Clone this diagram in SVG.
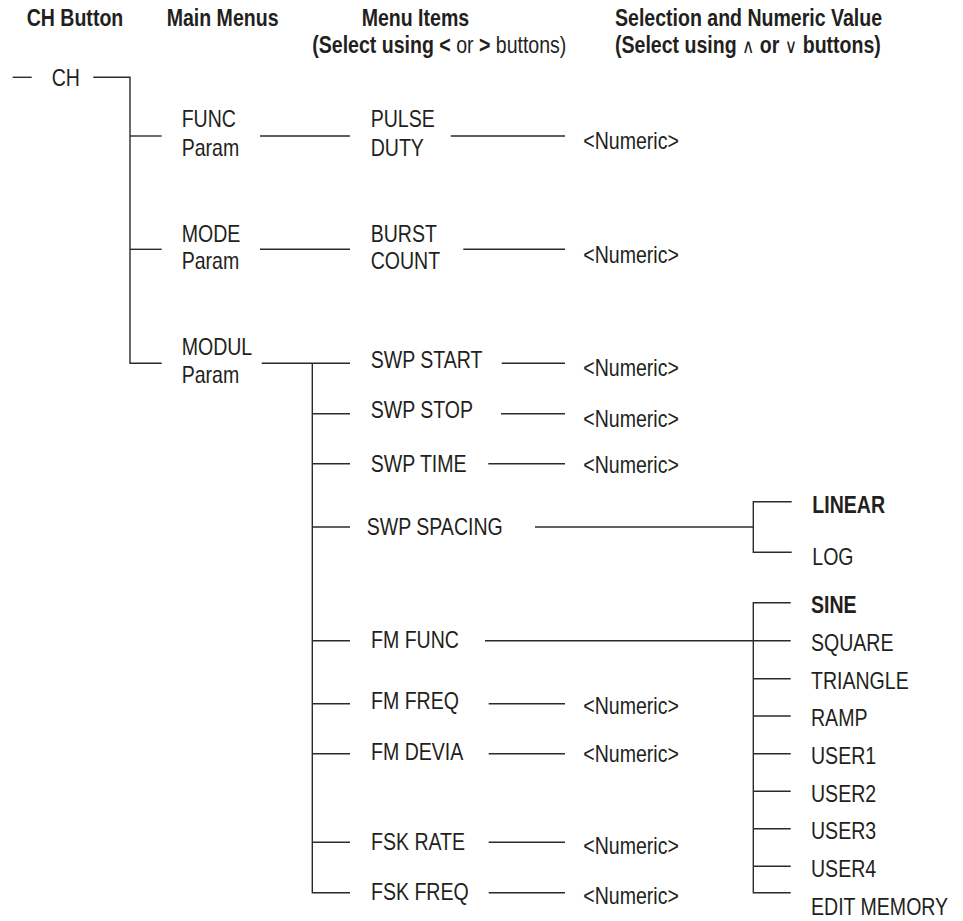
<svg xmlns="http://www.w3.org/2000/svg" width="963" height="921" viewBox="0 0 963 921">
<style>
text { font-family: "Liberation Sans", Arial, sans-serif; font-size: 23px; fill: #231f20; transform-box: fill-box; transform-origin: 0 50%; transform: scaleX(0.85); }
.b { font-weight: bold; }
.r { font-weight: normal; }
.sym { font-family: "DejaVu Sans", sans-serif; font-size: 20px; font-weight: normal; }
.c line, .c path { stroke: #2b2b2b; stroke-width: 1.4; fill: none; }
</style>
<rect width="963" height="921" fill="#fff"/>
<g id="headers">
<text class="b" x="26.7" y="26">CH Button</text>
<text class="b" x="166.7" y="26">Main Menus</text>
<text class="b" x="361.7" y="26">Menu Items</text>
<text class="b" x="312.3" y="53.5">(Select using &lt; <tspan class="r">or</tspan> &gt; <tspan class="r">buttons)</tspan></text>
<text class="b" x="615" y="26">Selection and Numeric Value</text>
<text class="b" x="615" y="53.5">(Select using <tspan class="sym">∧</tspan> or <tspan class="sym">∨</tspan> buttons)</text>
</g>
<g class="c" id="connectors">
<line x1="12.7" y1="77.3" x2="31.7" y2="77.3"/>
<path d="M93.3 77.3 H130 V363.3 H161.7"/>
<line x1="130" y1="136" x2="161.7" y2="136"/>
<line x1="130" y1="249.3" x2="161.7" y2="249.3"/>
<line x1="260" y1="136" x2="350" y2="136"/>
<line x1="260" y1="249.3" x2="350" y2="249.3"/>
<line x1="450.7" y1="136" x2="565" y2="136"/>
<line x1="463.3" y1="249.3" x2="565" y2="249.3"/>
<line x1="261.7" y1="363.3" x2="350" y2="363.3"/>
<path d="M312.3 363.3 V892.7 H350"/>
<line x1="312.3" y1="413.7" x2="350" y2="413.7"/>
<line x1="312.3" y1="463.7" x2="350" y2="463.7"/>
<line x1="312.3" y1="527" x2="350" y2="527"/>
<line x1="312.3" y1="640.7" x2="350" y2="640.7"/>
<line x1="312.3" y1="703.7" x2="350" y2="703.7"/>
<line x1="312.3" y1="753.7" x2="350" y2="753.7"/>
<line x1="312.3" y1="842.3" x2="350" y2="842.3"/>
<line x1="501.7" y1="363.3" x2="565" y2="363.3"/>
<line x1="501" y1="413.7" x2="565" y2="413.7"/>
<line x1="488.3" y1="463.7" x2="565" y2="463.7"/>
<line x1="488.7" y1="703.7" x2="565" y2="703.7"/>
<line x1="488.7" y1="753.7" x2="565" y2="753.7"/>
<line x1="488.7" y1="842.3" x2="565" y2="842.3"/>
<line x1="488.7" y1="892.7" x2="565" y2="892.7"/>
<line x1="535" y1="527" x2="753.3" y2="527"/>
<path d="M791.7 501.7 H753.3 V552.3 H791.7"/>
<line x1="485" y1="640.7" x2="753.3" y2="640.7"/>
<path d="M790.7 602.7 H753.3 V892.7 H790.7"/>
<line x1="753.3" y1="640.7" x2="790.7" y2="640.7"/>
<line x1="753.3" y1="678.7" x2="790.7" y2="678.7"/>
<line x1="753.3" y1="716" x2="790.7" y2="716"/>
<line x1="753.3" y1="753.7" x2="790.7" y2="753.7"/>
<line x1="753.3" y1="791.3" x2="790.7" y2="791.3"/>
<line x1="753.3" y1="828.7" x2="790.7" y2="828.7"/>
<line x1="753.3" y1="866.3" x2="790.7" y2="866.3"/>
</g>
<g id="ch"><text x="51.7" y="86">CH</text></g>
<g id="func"><text x="181.7" y="127.3">FUNC</text><text x="181.7" y="156.5">Param</text></g>
<g id="mode"><text x="181.7" y="241.7">MODE</text><text x="181.7" y="269.5">Param</text></g>
<g id="modul"><text x="181.7" y="355">MODUL</text><text x="181.7" y="382.7">Param</text></g>
<g id="pulse-duty"><text x="370.7" y="127.3">PULSE</text><text x="370.7" y="156.5">DUTY</text></g>
<g id="burst-count"><text x="370.7" y="241.7">BURST</text><text x="370.7" y="269.5">COUNT</text></g>
<g id="num-pulse"><text x="583.3" y="149.3">&lt;Numeric&gt;</text></g>
<g id="num-burst"><text x="583.3" y="262.7">&lt;Numeric&gt;</text></g>
<g id="swp-start"><text x="370.7" y="368.3">SWP START</text></g>
<g id="swp-stop"><text x="370.7" y="418.3">SWP STOP</text></g>
<g id="swp-time"><text x="370.7" y="471.7">SWP TIME</text></g>
<g id="swp-spacing"><text x="366.7" y="535">SWP SPACING</text></g>
<g id="fm-func"><text x="371" y="648.3">FM FUNC</text></g>
<g id="fm-freq"><text x="371" y="709.3">FM FREQ</text></g>
<g id="fm-devia"><text x="371" y="760">FM DEVIA</text></g>
<g id="fsk-rate"><text x="371" y="850">FSK RATE</text></g>
<g id="fsk-freq"><text x="371" y="900">FSK FREQ</text></g>
<g id="num-start"><text x="583.3" y="376">&lt;Numeric&gt;</text></g>
<g id="num-stop"><text x="583.3" y="426.7">&lt;Numeric&gt;</text></g>
<g id="num-time"><text x="583.3" y="473.3">&lt;Numeric&gt;</text></g>
<g id="num-fmfreq"><text x="583.3" y="714.3">&lt;Numeric&gt;</text></g>
<g id="num-fmdevia"><text x="583.3" y="761.7">&lt;Numeric&gt;</text></g>
<g id="num-fskrate"><text x="583.3" y="854">&lt;Numeric&gt;</text></g>
<g id="num-fskfreq"><text x="583.3" y="904">&lt;Numeric&gt;</text></g>
<g id="linear"><text class="b" x="812.3" y="513.3">LINEAR</text></g>
<g id="log"><text x="812.3" y="565">LOG</text></g>
<g id="sine"><text class="b" x="811" y="613.3">SINE</text></g>
<g id="square"><text x="811" y="651">SQUARE</text></g>
<g id="triangle"><text x="811" y="688.7">TRIANGLE</text></g>
<g id="ramp"><text x="811" y="726.4">RAMP</text></g>
<g id="user1"><text x="811" y="764">USER1</text></g>
<g id="user2"><text x="811" y="801.7">USER2</text></g>
<g id="user3"><text x="811" y="839.4">USER3</text></g>
<g id="user4"><text x="811" y="877">USER4</text></g>
<g id="edit-memory"><text x="811" y="914.7">EDIT MEMORY</text></g>
</svg>
